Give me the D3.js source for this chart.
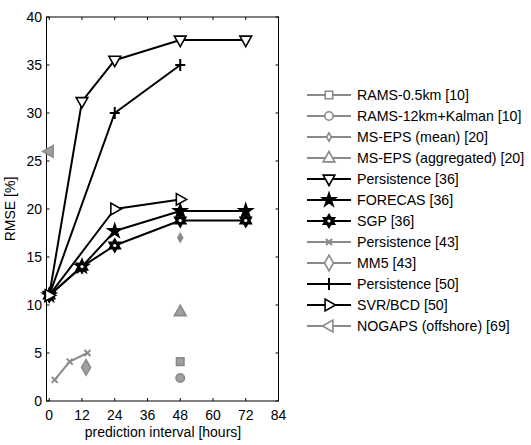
<!DOCTYPE html>
<html lang="en">
<head>
  <meta charset="UTF-8">
  <title>RMSE vs prediction interval</title>
  <script src="https://d3js.org/d3.v7.min.js"></script>
  <style type="text/css">
    body { margin: 0; background: #fff; }
    text { font-family: "Liberation Sans", Arial, sans-serif; }
  </style>
</head>
<body>
<script type="text/javascript">
  // values: [hours, RMSE %]
  var names = ["RAMS-0.5km [10]", "RAMS-12km+Kalman [10]", "MS-EPS (mean) [20]",
    "MS-EPS (aggregated) [20]", "Persistence [36]", "FORECAS [36]", "SGP [36]",
    "Persistence [43]", "MM5 [43]", "Persistence [50]", "SVR/BCD [50]", "NOGAPS (offshore) [69]"];
  var rams05 = [[48, 4.1]];
  var rams12 = [[48, 2.4]];
  var msepsMean = [[48, 17.0]];
  var msepsAgg = [[48, 9.3]];
  var persist36 = [[0, 11.0], [12, 31.2], [24, 35.5], [48, 37.6], [72, 37.6]];
  var forecas36 = [[0, 11.0], [12, 14.0], [24, 17.7], [48, 19.8], [72, 19.8]];
  var sgp36 = [[0, 11.0], [12, 14.0], [24, 16.2], [48, 18.8], [72, 18.8]];
  var persist43 = [[2, 2.2], [7.5, 4.1], [14, 5.0]];
  var mm543 = [[13.5, 3.5]];
  var persist50 = [[0, 11.0], [24, 30.0], [48, 35.0]];
  var svr50 = [[0, 11.0], [24, 20.0], [48, 21.0]];
  var nogaps69 = [[0, 26.0]];
  var xTicks = [0, 12, 24, 36, 48, 60, 72, 84];
  var yTicks = [0, 5, 10, 15, 20, 25, 30, 35, 40];

  var gray = "#8a8a8a";
  var series = [
    {name: names[0], data: rams05, color: gray, mk: "square", fill: "#a0a0a0"},
    {name: names[1], data: rams12, color: gray, mk: "circle", fill: "#a0a0a0"},
    {name: names[2], data: msepsMean, color: gray, mk: "smalldiamond", fill: gray},
    {name: names[3], data: msepsAgg, color: gray, mk: "triup", fill: "#a0a0a0"},
    {name: names[4], data: persist36, color: "#000", mk: "tridown", fill: "#fff"},
    {name: names[5], data: forecas36, color: "#000", mk: "star", fill: "#000"},
    {name: names[6], data: sgp36, color: "#000", mk: "hexa", fill: "#000"},
    {name: names[7], data: persist43, color: gray, mk: "x", fill: "none"},
    {name: names[8], data: mm543, color: gray, mk: "diamond", fill: "#a0a0a0"},
    {name: names[9], data: persist50, color: "#000", mk: "plus", fill: "none"},
    {name: names[10], data: svr50, color: "#000", mk: "triright", fill: "#fff"},
    {name: names[11], data: nogaps69, color: gray, mk: "trileft", fill: "#a0a0a0"}
  ];

  var W = 531, H = 445;
  var x = d3.scaleLinear().domain([-1, 84]).range([46.5, 278.5]);
  var y = d3.scaleLinear().domain([0, 40]).range([401, 17]);

  var svg = d3.select("body").append("svg").attr("width", W).attr("height", H);
  svg.append("rect").attr("width", W).attr("height", H).attr("fill", "#fff");

  function hexagram(r) {
    var p = [];
    for (var i = 0; i < 12; i++) {
      var a = Math.PI / 6 * i - Math.PI / 2;
      var rr = i % 2 === 0 ? r : r * 0.58;
      p.push([rr * Math.cos(a), rr * Math.sin(a)]);
    }
    return "M" + p.join("L") + "Z";
  }
  function tri(r, rot) {
    var p = [[0, -r], [r * 0.9, r * 0.6], [-r * 0.9, r * 0.6]].map(function(q) {
      var c = Math.cos(rot), s = Math.sin(rot);
      return [q[0] * c - q[1] * s, q[0] * s + q[1] * c];
    });
    return "M" + p.join("L") + "Z";
  }
  function markerPath(mk) {
    switch (mk) {
      case "square": return d3.symbol(d3.symbolSquare, 56)();
      case "circle": return d3.symbol(d3.symbolCircle, 55)();
      case "smalldiamond": return d3.symbol(d3.symbolDiamond, 20)();
      case "diamond": return d3.symbol(d3.symbolDiamond, 70)();
      case "triup": return tri(6.5, 0);
      case "tridown": return tri(6.5, Math.PI);
      case "triright": return tri(6.5, Math.PI / 2);
      case "trileft": return tri(6.5, -Math.PI / 2);
      case "star": return d3.symbol(d3.symbolStar, 55)();
      case "hexa": return hexagram(6.5);
      case "x": return "M-3,-3L3,3M-3,3L3,-3";
      case "plus": return "M-5,0L5,0M0,-6L0,6";
    }
  }

  // axes box with inward ticks on all four sides
  var g = svg.append("g").attr("font-size", 14);
  g.append("rect").attr("x", x.range()[0]).attr("y", y.range()[1])
    .attr("width", x.range()[1] - x.range()[0]).attr("height", y.range()[0] - y.range()[1])
    .attr("fill", "none").attr("stroke", "#000").attr("stroke-width", 1);

  var tk = 3;
  xTicks.forEach(function(t) {
    g.append("line").attr("x1", x(t)).attr("x2", x(t)).attr("y1", y(0)).attr("y2", y(0) - tk).attr("stroke", "#000");
    g.append("line").attr("x1", x(t)).attr("x2", x(t)).attr("y1", y(40)).attr("y2", y(40) + tk).attr("stroke", "#000");
    g.append("text").attr("x", x(t)).attr("y", 420).attr("text-anchor", "middle").text(t);
  });
  yTicks.forEach(function(t) {
    g.append("line").attr("x1", x(-1)).attr("x2", x(-1) + tk).attr("y1", y(t)).attr("y2", y(t)).attr("stroke", "#000");
    g.append("line").attr("x1", x(84)).attr("x2", x(84) - tk).attr("y1", y(t)).attr("y2", y(t)).attr("stroke", "#000");
    g.append("text").attr("x", 42).attr("y", y(t) + 5).attr("text-anchor", "end").text(t);
  });
  g.append("text").attr("x", 163).attr("y", 437).attr("text-anchor", "middle").text("prediction interval [hours]");
  g.append("text").attr("transform", "translate(15," + y(20) + ") rotate(-90)")
    .attr("text-anchor", "middle").text("RMSE [%]");

  var line = d3.line().x(function(d) { return x(d[0]); }).y(function(d) { return y(d[1]); });

  function drawMarkers(sel, s) {
    sel.append("path")
      .attr("d", markerPath(s.mk))
      .attr("fill", s.fill)
      .attr("stroke", s.color)
      .attr("stroke-width", s.mk === "plus" || s.mk === "x" ? 2 : 1.6);
    if (s.mk === "hexa") {
      sel.append("circle").attr("r", 1.6).attr("fill", "#fff");
    }
  }

  series.forEach(function(s) {
    if (s.data.length > 1) {
      svg.append("path").attr("d", line(s.data)).attr("fill", "none")
        .attr("stroke", s.color).attr("stroke-width", 2).attr("stroke-linejoin", "round");
    }
  });
  series.forEach(function(s) {
    var pts = svg.selectAll(null).data(s.data).enter().append("g")
      .attr("transform", function(d) { return "translate(" + x(d[0]) + "," + y(d[1]) + ")"; });
    drawMarkers(pts, s);
  });

  // legend
  var leg = svg.append("g").attr("font-size", 14.2);
  series.forEach(function(s, i) {
    var ly = 95 + i * 21;
    leg.append("line").attr("x1", 307).attr("x2", 351).attr("y1", ly).attr("y2", ly)
      .attr("stroke", s.color).attr("stroke-width", 2);
    var lf = s.mk === "star" || s.mk === "hexa" ? "#000" : (s.fill === "none" ? "none" : "#fff");
    var m = leg.append("g").attr("transform", "translate(329," + ly + ")");
    drawMarkers(m, {mk: s.mk, color: s.color, fill: lf});
    leg.append("text").attr("x", 357).attr("y", ly + 5).text(s.name);
  });
</script>
</body>
</html>
